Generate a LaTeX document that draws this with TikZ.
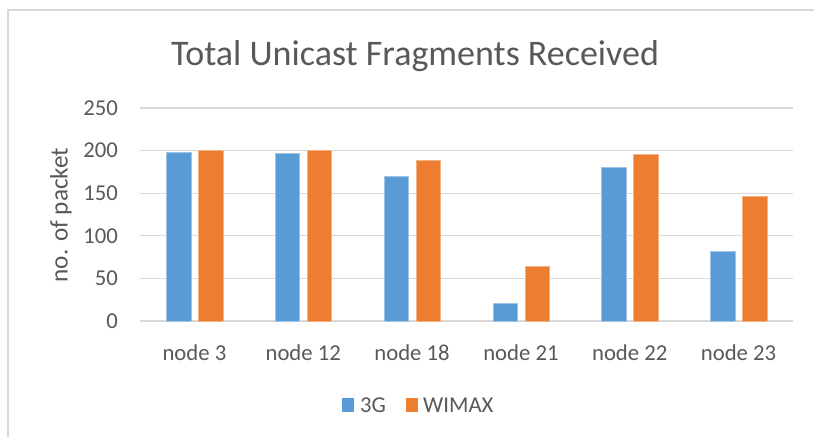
\documentclass[tikz,border=0pt]{standalone}
\usepackage{fontspec}
\setmainfont{Carlito}
\definecolor{bblue}{HTML}{5B9BD5}
\definecolor{borange}{HTML}{ED7D31}
\definecolor{gridc}{HTML}{D9D9D9}
\definecolor{txt}{HTML}{595959}
\definecolor{frame}{HTML}{D9D9D9}
\begin{document}
\begin{tikzpicture}[x=1pt,y=-1pt,
  gridline/.style={draw=gridc,line width=1.2pt},
  bluebar/.style={fill=bblue,draw=bblue!60!white,line width=0.6pt},
  orangebar/.style={fill=borange,draw=borange!60!white,line width=0.6pt},
  ticklab/.style={text=txt,font=\fontsize{22.7}{26}\selectfont,anchor=east,inner sep=0pt},
  catlab/.style={text=txt,font=\fontsize{22.7}{26}\selectfont,anchor=base,inner sep=0pt},
  leglab/.style={text=txt,font=\fontsize{22.7}{26}\selectfont,anchor=base west,inner sep=0pt}]
\useasboundingbox (0,0) rectangle (814,437);
\fill[white] (0,0) rectangle (814,437);
% frame
\draw[frame,line width=2pt] (8,437) -- (8,10) -- (814,10);
% title
\node[text=txt,font=\fontsize{36}{40}\selectfont,inner sep=0pt,anchor=base] (title) at (415,65.7) {Total Unicast Fragments Received};
% gridlines and tick labels
\foreach \v in {0,50,...,250}{
  \draw[gridline] (140,{321-\v*0.852}) -- (793,{321-\v*0.852});
  \node[ticklab] (t\v) at (118,{321-\v*0.852}) {\v};
}
% axis label
\node[text=txt,font=\fontsize{25.2}{28}\selectfont,rotate=90,inner sep=0pt] (ylab) at (61,215) {no. of packet};
% bars
\foreach \i/\a/\b/\lab in {0/198/200/node 3,1/197/200/node 12,2/170/189/node 18,3/21/64.5/node 21,4/180/195.5/node 22,5/82/146/node 23}{
  \pgfmathsetmacro{\c}{140+108.83*(\i+0.5)}
  \draw[bluebar] ({\c-28},321) rectangle ({\c-3.5},{321-\a*0.852});
  \draw[orangebar] ({\c+4},321) rectangle ({\c+28.5},{321-\b*0.852});
  \node[catlab] (c\i) at (\c,360) {\lab};
}
% legend
\fill[bblue] (342,398) rectangle (354,412);
\node[leglab] (l1) at (360,412) {3G};
\fill[borange] (406,398) rectangle (418,412);
\node[leglab] (l2) at (423,412) {WIMAX};
\end{tikzpicture}
\end{document}
